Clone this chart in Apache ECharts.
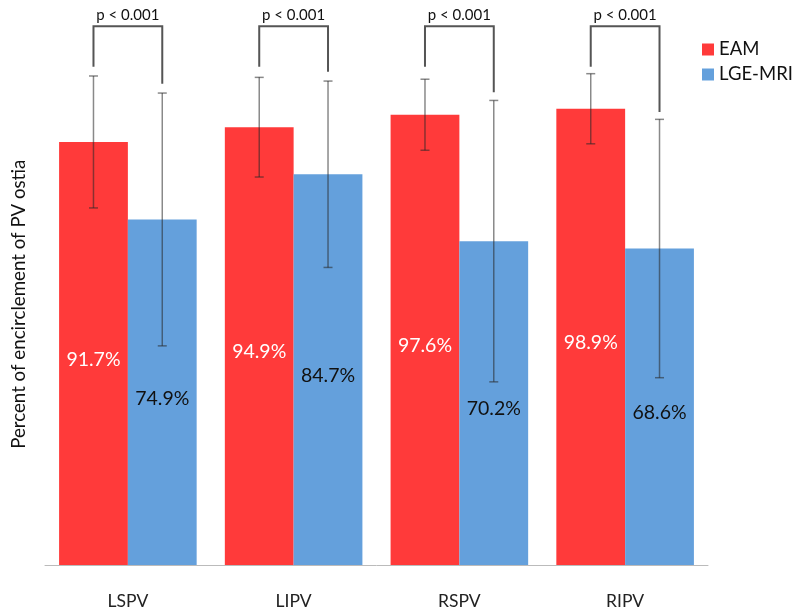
<!DOCTYPE html>
<html>
<head>
<meta charset="utf-8">
<script src="https://cdn.jsdelivr.net/npm/echarts@6/dist/echarts.min.js"></script>
<style>html,body{margin:0;padding:0;background:#fff}#c{width:800px;height:614px}</style>
</head>
<body>
<div id="c"></div>
<script>
var categories = ['LSPV', 'LIPV', 'RSPV', 'RIPV'];
var eamValues = [91.7, 94.9, 97.6, 98.9];
var lgeValues = [74.9, 84.7, 70.2, 68.6];
var eamErr = [14.3, 10.8, 7.7, 7.6];
var lgeErr = [27.4, 20.2, 30.5, 28.0];
var pLabels = ['p < 0.001', 'p < 0.001', 'p < 0.001', 'p < 0.001'];
var bracketTop = [116.8, 116.8, 116.8, 116.8];
var bracketEamEnd = [108.0, 108.0, 108.0, 108.0];
var bracketLgeEnd = [104.3, 106.9, 102.5, 98.2];

var FONT = 'Lato';
var GAP = 0.17;

function errData(vals, errs) {
  return vals.map(function (v, i) { return [i, v - errs[i], v + errs[i]]; });
}
function errRender(side) {
  return function (params, api) {
    var band = api.size([1, 0])[0];
    var bw = band * (1 - GAP) / 2;
    var off = side * bw / 2;
    var lo = api.coord([api.value(0), api.value(1)]);
    var hi = api.coord([api.value(0), api.value(2)]);
    var x = lo[0] + off;
    var cap = 4.5;
    var st = { stroke: 'rgba(40,40,40,0.55)', lineWidth: 1.5 };
    return { type: 'group', children: [
      { type: 'line', shape: { x1: x, y1: lo[1], x2: x, y2: hi[1] }, style: st },
      { type: 'line', shape: { x1: x - cap, y1: lo[1], x2: x + cap, y2: lo[1] }, style: st },
      { type: 'line', shape: { x1: x - cap, y1: hi[1], x2: x + cap, y2: hi[1] }, style: st }
    ]};
  };
}
var bracketData = categories.map(function (c, i) {
  return [i, bracketTop[i], bracketEamEnd[i], bracketLgeEnd[i]];
});

var chart = echarts.init(document.getElementById('c'));
chart.setOption({
  animation: false,
  textStyle: { fontFamily: FONT },
  grid: { left: 45, right: 92, top: 11.4, bottom: 49 },
  legend: {
    orient: 'vertical', left: 697, top: 35,
    itemWidth: 12, itemHeight: 12, itemGap: 6,
    icon: 'rect',
    textStyle: { fontFamily: FONT, fontSize: 18.5, color: '#111', padding: [0, 0, 0, 0] },
    data: ['EAM', 'LGE-MRI']
  },
  xAxis: {
    type: 'category', data: categories,
    axisLine: { lineStyle: { color: '#bbb', width: 1 } },
    axisTick: { show: false },
    axisLabel: { fontFamily: FONT, fontSize: 17.5, color: '#222', margin: 27 }
  },
  yAxis: {
    type: 'value', min: 0, max: 120,
    name: 'Percent of encirclement of PV ostia',
    nameLocation: 'middle', nameGap: 17,
    nameTextStyle: { fontFamily: FONT, fontSize: 18.7, color: '#111', padding: [0, 32, 0, 0] },
    axisLine: { show: false }, axisTick: { show: false },
    axisLabel: { show: false }, splitLine: { show: false }
  },
  series: [
    {
      name: 'EAM', type: 'bar', data: eamValues, barGap: 0, barCategoryGap: (GAP * 100) + '%',
      itemStyle: { color: '#FF3A3A' },
      label: { show: true, position: 'inside', offset: [0, 6], formatter: '{c}%',
        color: '#fff', fontFamily: FONT, fontSize: 19.5 }
    },
    {
      name: 'LGE-MRI', type: 'bar', data: lgeValues, barGap: 0, barCategoryGap: (GAP * 100) + '%',
      itemStyle: { color: '#64A0DC' },
      label: { show: true, position: 'inside', offset: [0, 6], formatter: '{c}%',
        color: '#111', fontFamily: FONT, fontSize: 19.5 }
    },
    { type: 'custom', name: 'eamErr', data: errData(eamValues, eamErr), renderItem: errRender(-1), z: 5 },
    { type: 'custom', name: 'lgeErr', data: errData(lgeValues, lgeErr), renderItem: errRender(1), z: 5 },
    {
      type: 'custom', name: 'brackets', data: bracketData, z: 6,
      renderItem: function (params, api) {
        var band = api.size([1, 0])[0];
        var bw = band * (1 - GAP) / 2;
        var i = api.value(0);
        var top = api.coord([i, api.value(1)]);
        var e = api.coord([i, api.value(2)]);
        var l = api.coord([i, api.value(3)]);
        var xl = top[0] - bw / 2, xr = top[0] + bw / 2;
        return { type: 'group', children: [
          { type: 'polyline', shape: { points: [[xl, e[1]], [xl, top[1]], [xr, top[1]], [xr, l[1]]] },
            style: { stroke: '#555', lineWidth: 2, fill: null } },
          { type: 'text', style: { x: top[0], y: top[1] - 4, text: pLabels[i], textAlign: 'center',
            textVerticalAlign: 'bottom', fontFamily: FONT, fontSize: 15, fill: '#111' } }
        ]};
      }
    }
  ]
});
</script>
</body>
</html>
